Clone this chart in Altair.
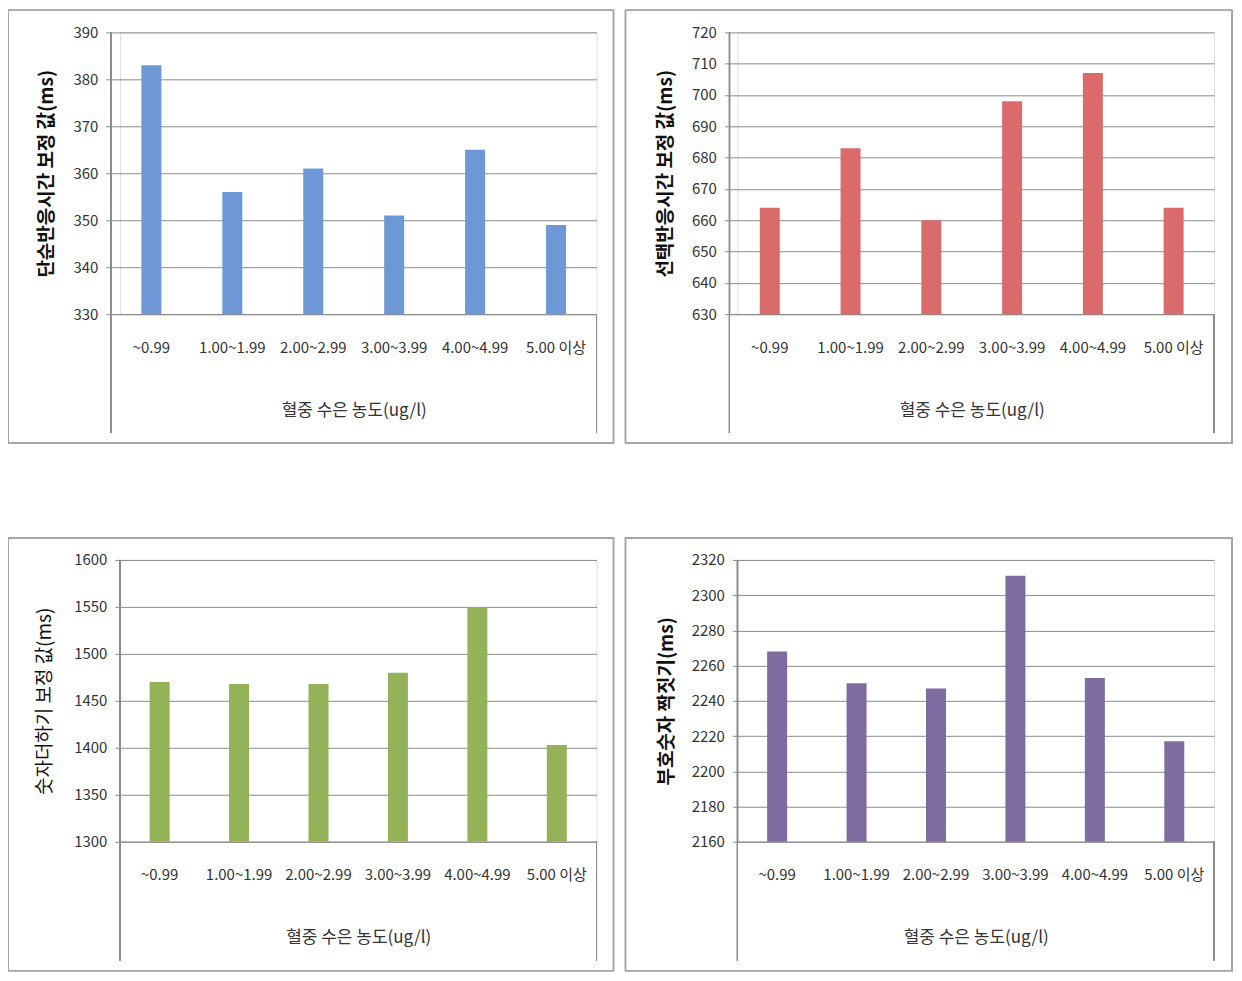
import altair as alt
import pandas as pd

categories = ["~0.99", "1.00~1.99", "2.00~2.99", "3.00~3.99", "4.00~4.99", "5.00 이상"]
simple_rt = [383, 356, 361, 351, 365, 349]
choice_rt = [664, 683, 660, 698, 707, 664]
addition = [1470, 1468, 1468, 1480, 1550, 1403]
symbol_digit = [2268, 2250, 2247, 2311, 2253, 2217]

x_title = "혈중 수은 농도(ug/l)"
FONT = "Noto Sans CJK KR"
GRID = "#8c8c8c"
PLOT_W = 477
PLOT_H = 282


def panel(values, color, ytitle, domain, step, shift, right_ext, title_bold, title_pad):
    df = pd.DataFrame({"cat": categories, "val": values})
    base = alt.Chart(df)
    bars = base.mark_bar(size=20, color=color, clip=True).encode(
        x=alt.X("cat:N", sort=categories,
                scale=alt.Scale(paddingInner=0, paddingOuter=0, range=[-shift, PLOT_W]),
                axis=alt.Axis(title=x_title, labelAngle=0, ticks=False, domain=True,
                              domainColor=GRID, labelPadding=26, labelFontSize=15,
                              labelColor="#333333", labelFont=FONT, titleFont=FONT,
                              titleFontSize=17, titleFontWeight="normal", titleColor="#333333",
                              titlePadding=47, titleX=(PLOT_W - shift) / 2)),
        y=alt.Y("val:Q", scale=alt.Scale(domain=domain, nice=False, zero=False),
                axis=alt.Axis(title=ytitle, values=list(range(domain[0], domain[1] + 1, step)),
                              format="d", offset=shift,
                              grid=True, gridColor=GRID, tickColor=GRID, tickSize=5,
                              domainColor=GRID, labelPadding=8, labelFontSize=15,
                              labelColor="#333333", labelFont=FONT, titleFont=FONT,
                              titleFontSize=19, titleFontWeight="bold" if title_bold else "normal",
                              titleColor="#111111", titlePadding=title_pad)),
    )
    left_line = base.mark_rule(color=GRID).encode(
        x=alt.value(-shift), y=alt.value(0), y2=alt.value(PLOT_H + 119))
    right_line = base.mark_rule(color=GRID).encode(
        x=alt.value(PLOT_W), y=alt.value(PLOT_H), y2=alt.value(PLOT_H + 119))
    frame = base.mark_rect(fill=None, stroke="#a6a6a6", strokeWidth=1.2).encode(
        x=alt.value(-112), x2=alt.value(PLOT_W + right_ext),
        y=alt.value(-22), y2=alt.value(PLOT_H + 129))
    return alt.layer(frame, bars, left_line, right_line).properties(
        width=PLOT_W, height=PLOT_H)


p1 = panel(simple_rt, "#6D97D5", "단순반응시간 보정 값(ms)", [330, 390], 10, 9, 17, True, 16)
p2 = panel(choice_rt, "#DA6B6A", "선택반응시간 보정 값(ms)", [630, 720], 10, 8, 18, True, 16)
p3 = panel(addition, "#94B258", "숫자더하기  보정 값(ms)", [1300, 1600], 50, 0, 17, False, 19)
p4 = panel(symbol_digit, "#7E6BA0", "부호숫자 짝짓기(ms)", [2160, 2320], 20, 0, 18, True, 15)

chart = alt.concat(
    p1, p2, p3, p4, columns=2, align="none",
    spacing=alt.RowColnumber(row=91, column=8),
).properties(padding={"left": -2, "top": 0, "right": 0, "bottom": 0}).configure_view(
    stroke=None
).configure(background="white")

chart.save("out.html", embed_options={"renderer": "svg", "actions": False})
